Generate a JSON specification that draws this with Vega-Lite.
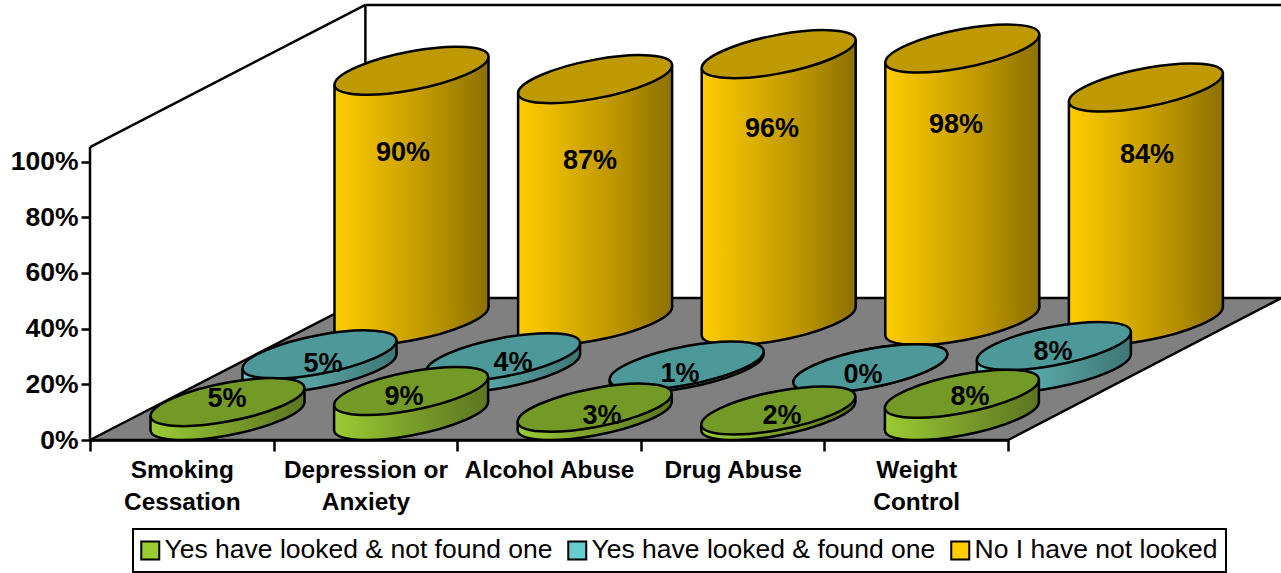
{"$schema":"https://vega.github.io/schema/vega-lite/v6.json","width":1281,"height":573,"autosize":"none","padding":0,"background":"white","config":{"view":{"stroke":null},"font":"Liberation Sans","legend":{"strokeWidth":2}},
"datasets":{"d":[
{"category":"Smoking Cessation","series":"Yes have looked & not found one","value":0.05},
{"category":"Depression or Anxiety","series":"Yes have looked & not found one","value":0.09},
{"category":"Alcohol Abuse","series":"Yes have looked & not found one","value":0.03},
{"category":"Drug Abuse","series":"Yes have looked & not found one","value":0.02},
{"category":"Weight Control","series":"Yes have looked & not found one","value":0.08},
{"category":"Smoking Cessation","series":"Yes have looked & found one","value":0.05},
{"category":"Depression or Anxiety","series":"Yes have looked & found one","value":0.04},
{"category":"Alcohol Abuse","series":"Yes have looked & found one","value":0.01},
{"category":"Drug Abuse","series":"Yes have looked & found one","value":0.0},
{"category":"Weight Control","series":"Yes have looked & found one","value":0.08},
{"category":"Smoking Cessation","series":"No I have not looked","value":0.90},
{"category":"Depression or Anxiety","series":"No I have not looked","value":0.87},
{"category":"Alcohol Abuse","series":"No I have not looked","value":0.96},
{"category":"Drug Abuse","series":"No I have not looked","value":0.98},
{"category":"Weight Control","series":"No I have not looked","value":0.84}
],
"floor":[{"u":0,"top":0,"bottom":0},{"u":1.5,"top":0.51,"bottom":0},{"u":5,"top":0.51,"bottom":0},{"u":6.49,"top":0.51,"bottom":0.51}],
"walls":[{"u":0,"v":0,"u2":0,"v2":1.052},{"u":0,"v":1.052,"u2":1.5,"v2":1.562},{"u":1.5,"v":0.51,"u2":1.5,"v2":1.562},{"u":1.5,"v":1.562,"u2":6.49,"v2":1.562}]},
"resolve":{"scale":{"x":"independent","y":"independent"}},
"layer":[
{"data":{"name":"floor"},"mark":{"type":"area","fill":"#808080","stroke":"black","strokeWidth":2.5,"opacity":1},"encoding":{"x":{"field":"u","type":"quantitative","axis":null,"scale":{"domain":[0,5],"range":[90,1008]}},"y":{"field":"top","type":"quantitative","axis":null,"scale":{"domain":[0,1],"range":[440,161.5]}},"y2":{"field":"bottom"}}},
{"data":{"name":"walls"},"mark":{"type":"rule","stroke":"black","strokeWidth":2.5},"encoding":{"x":{"field":"u","type":"quantitative","axis":null,"scale":{"domain":[0,5],"range":[90,1008]}},"x2":{"field":"u2"},"y":{"field":"v","type":"quantitative","scale":{"domain":[0,1],"range":[440,161.5]},"axis":{"offset":-90,"values":[0,0.2,0.4,0.6,0.8,1],"format":".0%","title":null,"grid":false,"domain":false,"tickColor":"black","tickWidth":2.5,"tickSize":9,"labelPadding":3,"labelFont":"Liberation Sans","labelFontWeight":"bold","labelFontSize":26.5,"labelColor":"black"}},"y2":{"field":"v2"}}},
{"data":{"name":"d"},"mark":{"type":"tick","opacity":0},"encoding":{"x":{"field":"category","type":"nominal","sort":null,"scale":{"type":"band","domain":["Smoking Cessation","Depression or Anxiety","Alcohol Abuse","Drug Abuse","Weight Control"],"range":[90,1008],"padding":0},"axis":{"offset":-133,"title":null,"grid":false,"tickBand":"extent","domain":true,"domainColor":"black","domainWidth":2.5,"tickColor":"black","tickWidth":2.5,"tickSize":11,"labelAngle":0,"labelPadding":7,"labelBaseline":"top","labelOverlap":false,"labelLimit":300,"labelLineHeight":32,"labelFont":"Liberation Sans","labelFontWeight":"bold","labelFontSize":24.4,"labelColor":"black","labelExpr":"datum.label=='Depression or Anxiety'?['Depression or','Anxiety']:(datum.label=='Alcohol Abuse'||datum.label=='Drug Abuse')?datum.label:split(datum.label,' ')"}}}},

{"data":{"name":"d"},"transform":[{"filter":"datum.series=='No I have not looked'"}],"mark":{"type":"point","filled":true,"opacity":1,"size":4,"shape":"M77,-14C77,-3.23 42.5,11.77 0,19.5C-42.5,27.23 -77,24.77 -77,14C-77,3.23 -42.5,-11.77 0,-19.5C42.5,-27.23 77,-24.77 77,-14Z","stroke":"black","strokeWidth":2.5,"fill":{"gradient":"linear","x1":0,"y1":0,"x2":1,"y2":0,"stops":[{"offset":0,"color":"#ffcc00"},{"offset":0.33,"color":"#dcb000"},{"offset":0.67,"color":"#b89200"},{"offset":1,"color":"#8c7000"}]}},"encoding":{"x":{"field":"category","type":"nominal","sort":null,"axis":null,"scale":{"type":"point","domain":["Smoking Cessation","Depression or Anxiety","Alcohol Abuse","Drug Abuse","Weight Control"],"range":[411.5,1145.9],"padding":0}},"y":{"datum":0,"type":"quantitative","axis":null,"scale":{"domain":[0,1],"range":[321,43]}}}},
{"data":{"name":"d"},"transform":[{"filter":"datum.series=='No I have not looked'"}],"mark":{"type":"bar","opacity":1,"fill":{"gradient":"linear","x1":0,"y1":0,"x2":1,"y2":0,"stops":[{"offset":0,"color":"#ffcc00"},{"offset":1,"color":"#dcb000"}]}},"encoding":{"x":{"field":"category","type":"nominal","sort":null,"axis":null,"scale":{"type":"band","domain":["Smoking Cessation","Depression or Anxiety","Alcohol Abuse","Drug Abuse","Weight Control"],"range":[334.5,1120.9],"paddingInner":0.7168,"paddingOuter":0}},"y":{"field":"value","type":"quantitative","axis":null,"scale":{"domain":[0,1],"range":[335,57]}},"y2":{"datum":0}}},
{"data":{"name":"d"},"transform":[{"filter":"datum.series=='No I have not looked'"}],"mark":{"type":"bar","opacity":1,"fill":{"gradient":"linear","x1":0,"y1":0,"x2":1,"y2":0,"stops":[{"offset":0,"color":"#dcb000"},{"offset":1,"color":"#b89200"}]}},"encoding":{"x":{"field":"category","type":"nominal","sort":null,"axis":null,"scale":{"type":"band","domain":["Smoking Cessation","Depression or Anxiety","Alcohol Abuse","Drug Abuse","Weight Control"],"range":[385.5,1171.9],"paddingInner":0.7168,"paddingOuter":0}},"y":{"field":"value","type":"quantitative","axis":null,"scale":{"domain":[0,1],"range":[321,43]}},"y2":{"datum":0}}},
{"data":{"name":"d"},"transform":[{"filter":"datum.series=='No I have not looked'"}],"mark":{"type":"bar","opacity":1,"fill":{"gradient":"linear","x1":0,"y1":0,"x2":1,"y2":0,"stops":[{"offset":0,"color":"#b89200"},{"offset":1,"color":"#8c7000"}]}},"encoding":{"x":{"field":"category","type":"nominal","sort":null,"axis":null,"scale":{"type":"band","domain":["Smoking Cessation","Depression or Anxiety","Alcohol Abuse","Drug Abuse","Weight Control"],"range":[436.5,1222.9],"paddingInner":0.7168,"paddingOuter":0}},"y":{"field":"value","type":"quantitative","axis":null,"scale":{"domain":[0,1],"range":[307,29]}},"y2":{"datum":0}}},
{"data":{"name":"d"},"transform":[{"filter":"datum.series=='No I have not looked'"}],"mark":{"type":"rule","stroke":"black","strokeWidth":2.5},"encoding":{"x":{"field":"category","type":"nominal","sort":null,"axis":null,"scale":{"type":"point","domain":["Smoking Cessation","Depression or Anxiety","Alcohol Abuse","Drug Abuse","Weight Control"],"range":[334.5,1068.9],"padding":0}},"y":{"field":"value","type":"quantitative","axis":null,"scale":{"domain":[0,1],"range":[335,57]}},"y2":{"datum":0}}},
{"data":{"name":"d"},"transform":[{"filter":"datum.series=='No I have not looked'"}],"mark":{"type":"rule","stroke":"black","strokeWidth":2.5},"encoding":{"x":{"field":"category","type":"nominal","sort":null,"axis":null,"scale":{"type":"point","domain":["Smoking Cessation","Depression or Anxiety","Alcohol Abuse","Drug Abuse","Weight Control"],"range":[488.5,1222.9],"padding":0}},"y":{"field":"value","type":"quantitative","axis":null,"scale":{"domain":[0,1],"range":[307,29]}},"y2":{"datum":0}}},
{"data":{"name":"d"},"transform":[{"filter":"datum.series=='No I have not looked'"}],"mark":{"type":"point","filled":true,"opacity":1,"size":4,"shape":"M77,-14C77,-3.23 42.5,11.77 0,19.5C-42.5,27.23 -77,24.77 -77,14C-77,3.23 -42.5,-11.77 0,-19.5C42.5,-27.23 77,-24.77 77,-14Z","stroke":"black","strokeWidth":2.5,"fill":"#bf9900"},"encoding":{"x":{"field":"category","type":"nominal","sort":null,"axis":null,"scale":{"type":"point","domain":["Smoking Cessation","Depression or Anxiety","Alcohol Abuse","Drug Abuse","Weight Control"],"range":[411.5,1145.9],"padding":0}},"y":{"field":"value","type":"quantitative","axis":null,"scale":{"domain":[0,1],"range":[321,43]}}}},

{"data":{"name":"d"},"transform":[{"filter":"datum.series=='Yes have looked & found one'"}],"mark":{"type":"point","filled":true,"opacity":1,"size":4,"shape":"M77,-14C77,-3.23 42.5,11.77 0,19.5C-42.5,27.23 -77,24.77 -77,14C-77,3.23 -42.5,-11.77 0,-19.5C42.5,-27.23 77,-24.77 77,-14Z","stroke":"black","strokeWidth":2.5,"fill":{"gradient":"linear","x1":0,"y1":0,"x2":1,"y2":0,"stops":[{"offset":0,"color":"#66cccc"},{"offset":0.33,"color":"#59abab"},{"offset":0.67,"color":"#4d8f8f"},{"offset":1,"color":"#3f7575"}]}},"encoding":{"x":{"field":"category","type":"nominal","sort":null,"axis":null,"scale":{"type":"point","domain":["Smoking Cessation","Depression or Anxiety","Alcohol Abuse","Drug Abuse","Weight Control"],"range":[319.5,1053.9],"padding":0}},"y":{"datum":0,"type":"quantitative","axis":null,"scale":{"domain":[0,1],"range":[368.3,90.3]}}}},
{"data":{"name":"d"},"transform":[{"filter":"datum.series=='Yes have looked & found one'"}],"mark":{"type":"bar","opacity":1,"fill":{"gradient":"linear","x1":0,"y1":0,"x2":1,"y2":0,"stops":[{"offset":0,"color":"#66cccc"},{"offset":1,"color":"#59abab"}]}},"encoding":{"x":{"field":"category","type":"nominal","sort":null,"axis":null,"scale":{"type":"band","domain":["Smoking Cessation","Depression or Anxiety","Alcohol Abuse","Drug Abuse","Weight Control"],"range":[242.5,1028.9],"paddingInner":0.7168,"paddingOuter":0}},"y":{"field":"value","type":"quantitative","axis":null,"scale":{"domain":[0,1],"range":[382.3,104.3]}},"y2":{"datum":0}}},
{"data":{"name":"d"},"transform":[{"filter":"datum.series=='Yes have looked & found one'"}],"mark":{"type":"bar","opacity":1,"fill":{"gradient":"linear","x1":0,"y1":0,"x2":1,"y2":0,"stops":[{"offset":0,"color":"#59abab"},{"offset":1,"color":"#4d8f8f"}]}},"encoding":{"x":{"field":"category","type":"nominal","sort":null,"axis":null,"scale":{"type":"band","domain":["Smoking Cessation","Depression or Anxiety","Alcohol Abuse","Drug Abuse","Weight Control"],"range":[293.5,1079.9],"paddingInner":0.7168,"paddingOuter":0}},"y":{"field":"value","type":"quantitative","axis":null,"scale":{"domain":[0,1],"range":[368.3,90.3]}},"y2":{"datum":0}}},
{"data":{"name":"d"},"transform":[{"filter":"datum.series=='Yes have looked & found one'"}],"mark":{"type":"bar","opacity":1,"fill":{"gradient":"linear","x1":0,"y1":0,"x2":1,"y2":0,"stops":[{"offset":0,"color":"#4d8f8f"},{"offset":1,"color":"#3f7575"}]}},"encoding":{"x":{"field":"category","type":"nominal","sort":null,"axis":null,"scale":{"type":"band","domain":["Smoking Cessation","Depression or Anxiety","Alcohol Abuse","Drug Abuse","Weight Control"],"range":[344.5,1130.9],"paddingInner":0.7168,"paddingOuter":0}},"y":{"field":"value","type":"quantitative","axis":null,"scale":{"domain":[0,1],"range":[354.3,76.3]}},"y2":{"datum":0}}},
{"data":{"name":"d"},"transform":[{"filter":"datum.series=='Yes have looked & found one'"}],"mark":{"type":"rule","stroke":"black","strokeWidth":2.5},"encoding":{"x":{"field":"category","type":"nominal","sort":null,"axis":null,"scale":{"type":"point","domain":["Smoking Cessation","Depression or Anxiety","Alcohol Abuse","Drug Abuse","Weight Control"],"range":[242.5,976.9],"padding":0}},"y":{"field":"value","type":"quantitative","axis":null,"scale":{"domain":[0,1],"range":[382.3,104.3]}},"y2":{"datum":0}}},
{"data":{"name":"d"},"transform":[{"filter":"datum.series=='Yes have looked & found one'"}],"mark":{"type":"rule","stroke":"black","strokeWidth":2.5},"encoding":{"x":{"field":"category","type":"nominal","sort":null,"axis":null,"scale":{"type":"point","domain":["Smoking Cessation","Depression or Anxiety","Alcohol Abuse","Drug Abuse","Weight Control"],"range":[396.5,1130.9],"padding":0}},"y":{"field":"value","type":"quantitative","axis":null,"scale":{"domain":[0,1],"range":[354.3,76.3]}},"y2":{"datum":0}}},
{"data":{"name":"d"},"transform":[{"filter":"datum.series=='Yes have looked & found one'"}],"mark":{"type":"point","filled":true,"opacity":1,"size":4,"shape":"M77,-14C77,-3.23 42.5,11.77 0,19.5C-42.5,27.23 -77,24.77 -77,14C-77,3.23 -42.5,-11.77 0,-19.5C42.5,-27.23 77,-24.77 77,-14Z","stroke":"black","strokeWidth":2.5,"fill":"#4d9999"},"encoding":{"x":{"field":"category","type":"nominal","sort":null,"axis":null,"scale":{"type":"point","domain":["Smoking Cessation","Depression or Anxiety","Alcohol Abuse","Drug Abuse","Weight Control"],"range":[319.5,1053.9],"padding":0}},"y":{"field":"value","type":"quantitative","axis":null,"scale":{"domain":[0,1],"range":[368.3,90.3]}}}},

{"data":{"name":"d"},"transform":[{"filter":"datum.series=='Yes have looked & not found one'"}],"mark":{"type":"point","filled":true,"opacity":1,"size":4,"shape":"M77,-14C77,-3.23 42.5,11.77 0,19.5C-42.5,27.23 -77,24.77 -77,14C-77,3.23 -42.5,-11.77 0,-19.5C42.5,-27.23 77,-24.77 77,-14Z","stroke":"black","strokeWidth":2.5,"fill":{"gradient":"linear","x1":0,"y1":0,"x2":1,"y2":0,"stops":[{"offset":0,"color":"#99cc33"},{"offset":0.33,"color":"#85ad2d"},{"offset":0.67,"color":"#708f27"},{"offset":1,"color":"#5b7520"}]}},"encoding":{"x":{"field":"category","type":"nominal","sort":null,"axis":null,"scale":{"type":"point","domain":["Smoking Cessation","Depression or Anxiety","Alcohol Abuse","Drug Abuse","Weight Control"],"range":[227.5,961.9],"padding":0}},"y":{"datum":0,"type":"quantitative","axis":null,"scale":{"domain":[0,1],"range":[416,138]}}}},
{"data":{"name":"d"},"transform":[{"filter":"datum.series=='Yes have looked & not found one'"}],"mark":{"type":"bar","opacity":1,"fill":{"gradient":"linear","x1":0,"y1":0,"x2":1,"y2":0,"stops":[{"offset":0,"color":"#99cc33"},{"offset":1,"color":"#85ad2d"}]}},"encoding":{"x":{"field":"category","type":"nominal","sort":null,"axis":null,"scale":{"type":"band","domain":["Smoking Cessation","Depression or Anxiety","Alcohol Abuse","Drug Abuse","Weight Control"],"range":[150.5,936.9],"paddingInner":0.7168,"paddingOuter":0}},"y":{"field":"value","type":"quantitative","axis":null,"scale":{"domain":[0,1],"range":[430,152]}},"y2":{"datum":0}}},
{"data":{"name":"d"},"transform":[{"filter":"datum.series=='Yes have looked & not found one'"}],"mark":{"type":"bar","opacity":1,"fill":{"gradient":"linear","x1":0,"y1":0,"x2":1,"y2":0,"stops":[{"offset":0,"color":"#85ad2d"},{"offset":1,"color":"#708f27"}]}},"encoding":{"x":{"field":"category","type":"nominal","sort":null,"axis":null,"scale":{"type":"band","domain":["Smoking Cessation","Depression or Anxiety","Alcohol Abuse","Drug Abuse","Weight Control"],"range":[201.5,987.9],"paddingInner":0.7168,"paddingOuter":0}},"y":{"field":"value","type":"quantitative","axis":null,"scale":{"domain":[0,1],"range":[416,138]}},"y2":{"datum":0}}},
{"data":{"name":"d"},"transform":[{"filter":"datum.series=='Yes have looked & not found one'"}],"mark":{"type":"bar","opacity":1,"fill":{"gradient":"linear","x1":0,"y1":0,"x2":1,"y2":0,"stops":[{"offset":0,"color":"#708f27"},{"offset":1,"color":"#5b7520"}]}},"encoding":{"x":{"field":"category","type":"nominal","sort":null,"axis":null,"scale":{"type":"band","domain":["Smoking Cessation","Depression or Anxiety","Alcohol Abuse","Drug Abuse","Weight Control"],"range":[252.5,1038.9],"paddingInner":0.7168,"paddingOuter":0}},"y":{"field":"value","type":"quantitative","axis":null,"scale":{"domain":[0,1],"range":[402,124]}},"y2":{"datum":0}}},
{"data":{"name":"d"},"transform":[{"filter":"datum.series=='Yes have looked & not found one'"}],"mark":{"type":"rule","stroke":"black","strokeWidth":2.5},"encoding":{"x":{"field":"category","type":"nominal","sort":null,"axis":null,"scale":{"type":"point","domain":["Smoking Cessation","Depression or Anxiety","Alcohol Abuse","Drug Abuse","Weight Control"],"range":[150.5,884.9],"padding":0}},"y":{"field":"value","type":"quantitative","axis":null,"scale":{"domain":[0,1],"range":[430,152]}},"y2":{"datum":0}}},
{"data":{"name":"d"},"transform":[{"filter":"datum.series=='Yes have looked & not found one'"}],"mark":{"type":"rule","stroke":"black","strokeWidth":2.5},"encoding":{"x":{"field":"category","type":"nominal","sort":null,"axis":null,"scale":{"type":"point","domain":["Smoking Cessation","Depression or Anxiety","Alcohol Abuse","Drug Abuse","Weight Control"],"range":[304.5,1038.9],"padding":0}},"y":{"field":"value","type":"quantitative","axis":null,"scale":{"domain":[0,1],"range":[402,124]}},"y2":{"datum":0}}},
{"data":{"name":"d"},"transform":[{"filter":"datum.series=='Yes have looked & not found one'"}],"mark":{"type":"point","filled":true,"opacity":1,"size":4,"shape":"M77,-14C77,-3.23 42.5,11.77 0,19.5C-42.5,27.23 -77,24.77 -77,14C-77,3.23 -42.5,-11.77 0,-19.5C42.5,-27.23 77,-24.77 77,-14Z","stroke":"black","strokeWidth":2.5,"fill":"#739926"},"encoding":{"x":{"field":"category","type":"nominal","sort":null,"axis":null,"scale":{"type":"point","domain":["Smoking Cessation","Depression or Anxiety","Alcohol Abuse","Drug Abuse","Weight Control"],"range":[227.5,961.9],"padding":0}},"y":{"field":"value","type":"quantitative","axis":null,"scale":{"domain":[0,1],"range":[416,138]}}}},

{"data":{"name":"d"},"transform":[{"filter":"datum.series=='No I have not looked'"}],"mark":{"type":"text","font":"Liberation Sans","fontWeight":"bold","fontSize":27,"fill":"black","align":"center","baseline":"middle"},"encoding":{"text":{"field":"value","type":"quantitative","format":".0%"},"x":{"field":"value","type":"quantitative","axis":null,"scale":{"domain":[0.84,0.87,0.90,0.96,0.98],"range":[1147,590,403,772,956]}},"y":{"field":"value","type":"quantitative","axis":null,"scale":{"domain":[0.84,0.87,0.90,0.96,0.98],"range":[155,161,153,129,125]}}}},
{"data":{"name":"d"},"transform":[{"filter":"datum.series=='Yes have looked & found one'"}],"mark":{"type":"text","font":"Liberation Sans","fontWeight":"bold","fontSize":27,"fill":"black","align":"center","baseline":"middle"},"encoding":{"text":{"field":"value","type":"quantitative","format":".0%"},"x":{"field":"value","type":"quantitative","axis":null,"scale":{"domain":[0,0.01,0.04,0.05,0.08],"range":[863,680,513,323,1053]}},"y":{"field":"value","type":"quantitative","axis":null,"scale":{"domain":[0,0.01,0.04,0.05,0.08],"range":[375,374,363,364,352]}}}},
{"data":{"name":"d"},"transform":[{"filter":"datum.series=='Yes have looked & not found one'"}],"mark":{"type":"text","font":"Liberation Sans","fontWeight":"bold","fontSize":27,"fill":"black","align":"center","baseline":"middle"},"encoding":{"text":{"field":"value","type":"quantitative","format":".0%"},"x":{"field":"value","type":"quantitative","axis":null,"scale":{"domain":[0.02,0.03,0.05,0.08,0.09],"range":[782,602,227,970,404]}},"y":{"field":"value","type":"quantitative","axis":null,"scale":{"domain":[0.02,0.03,0.05,0.08,0.09],"range":[416,416,399,397,397]}}}},
{"data":{"name":"d"},"mark":{"type":"point","filled":true,"size":0,"opacity":1},"encoding":{"color":{"field":"series","type":"nominal","scale":{"domain":["Yes have looked & not found one","Yes have looked & found one","No I have not looked"],"range":["#99cc33","#66cccc","#ffcc00"]},"legend":{"title":null,"orient":"none","legendX":133,"legendY":529,"direction":"horizontal","columns":3,"symbolType":"square","symbolSize":324,"symbolOffset":-4,"symbolStrokeColor":"black","symbolStrokeWidth":2,"symbolOpacity":1,"labelFont":"Liberation Sans","labelFontSize":26.5,"labelColor":"black","labelLimit":500,"labelOffset":1,"columnPadding":11,"padding":8,"strokeColor":"black","fillColor":"white"}}}}
]}
